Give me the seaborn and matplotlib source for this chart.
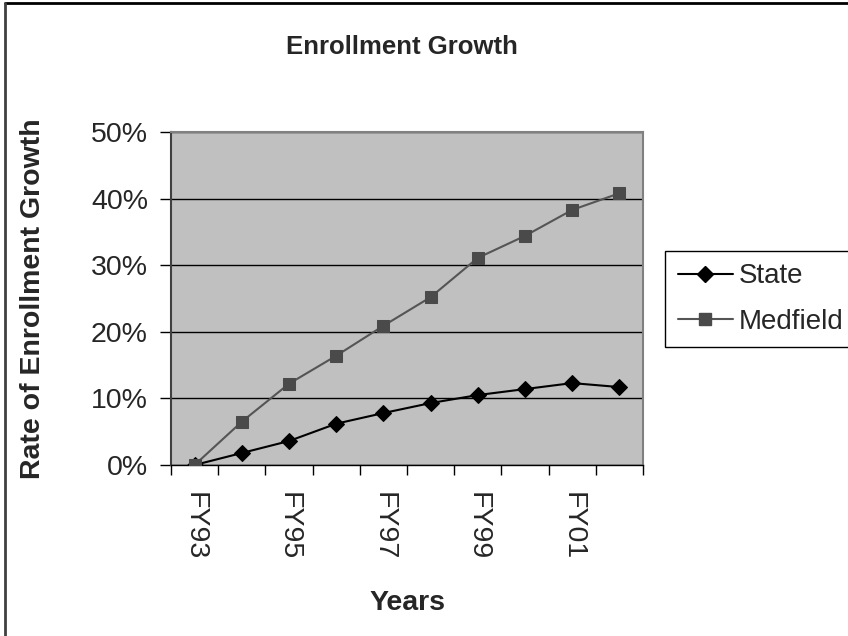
import numpy as np
import pandas as pd
import matplotlib
matplotlib.use("Agg")
import matplotlib.pyplot as plt
from matplotlib.lines import Line2D
from matplotlib.ticker import PercentFormatter
import seaborn as sns

# Fiscal years and cumulative enrollment growth (fraction of FY93 enrollment)
years = ["FY93", "FY94", "FY95", "FY96", "FY97", "FY98", "FY99", "FY00", "FY01", "FY02"]
state = [0.000, 0.018, 0.036, 0.062, 0.078, 0.093, 0.105, 0.114, 0.123, 0.117]
medfield = [0.000, 0.065, 0.122, 0.164, 0.209, 0.252, 0.311, 0.344, 0.383, 0.408]
series_names = ["State", "Medfield"]
labeled_years = ["FY93", "FY95", "FY97", "FY99", "FY01"]
y_ticks = [0.0, 0.1, 0.2, 0.3, 0.4, 0.5]

df = pd.DataFrame({
    "pos": list(range(len(years))) * 2,
    "Year": years * 2,
    "Growth": state + medfield,
    "Series": [series_names[0]] * len(years) + [series_names[1]] * len(years),
})

sns.set_theme(style="white")
plt.rcParams["font.family"] = ["Liberation Sans", "DejaVu Sans"]

PX = 72 / 100  # points per pixel at 100 dpi

fig = plt.figure(figsize=(8.48, 6.36), dpi=100)
ax = fig.add_axes([171 / 848, 1 - 465 / 636, (643 - 171) / 848, (465 - 132) / 636])
ax.set_facecolor("#C0C0C0")

palette = {"State": "#000000", "Medfield": "#555555"}
markers = {"State": "D", "Medfield": "s"}
sns.lineplot(data=df, x="pos", y="Growth", hue="Series", style="Series",
             palette=palette, markers=markers, dashes=False, sort=False,
             markersize=8.5, linewidth=1.5, ax=ax, legend=False, zorder=3)
# marker fills/edges
for line in ax.get_lines():
    if line.get_color() == "#555555":
        line.set_markerfacecolor("#4a4a4a")
        line.set_markeredgecolor("#4a4a4a")
    else:
        line.set_markerfacecolor("#000000")
        line.set_markeredgecolor("#000000")

ax.set_xlim(-0.5, len(years) - 0.5)
ax.set_ylim(0, 0.5)

# Category boundaries carry tick marks; every other category gets a label
ax.set_xticks(np.arange(-0.5, len(years), 1.0))
ax.set_xticklabels([])
ax.set_xticks([years.index(y) for y in labeled_years], minor=True)
ax.set_xticklabels(labeled_years, minor=True, rotation=-90, fontsize=20.5)
ax.tick_params(axis="x", which="major", direction="out", length=10 * PX, width=1,
               color="black", bottom=True)
ax.tick_params(axis="x", which="minor", length=0, pad=27 * PX, bottom=True)

ax.set_yticks(y_ticks)
ax.yaxis.set_major_formatter(PercentFormatter(1.0, decimals=0))
ax.tick_params(axis="y", direction="out", length=11 * PX, width=1, color="black",
               pad=12 * PX, labelsize=20.5, left=True)

ax.grid(axis="y", color="black", linewidth=1)
ax.grid(axis="x", visible=False)
ax.set_axisbelow(True)

for side in ["top", "right"]:
    ax.spines[side].set_color("#808080")
    ax.spines[side].set_linewidth(1.5)
ax.spines["left"].set_color("#404040")
ax.spines["left"].set_linewidth(1.5)
ax.spines["bottom"].set_color("black")
ax.spines["bottom"].set_linewidth(1)

ax.set_xlabel("Years", fontsize=20.5, fontweight="bold", labelpad=0)
ax.xaxis.set_label_coords(0.5, -(590 - 465) / (465 - 132), transform=ax.transAxes)
ax.set_ylabel("Rate of Enrollment Growth", fontsize=20.5, fontweight="bold")
ax.yaxis.set_label_coords(-(171 - 46) / (643 - 171), 0.5, transform=ax.transAxes)

fig.text(402 / 848, 1 - 47 / 636, "Enrollment Growth", fontsize=18.5, fontweight="bold",
         ha="center", va="center")

handles = [
    Line2D([], [], color="#000000", marker="D", markersize=8.5, linewidth=1.5,
           markerfacecolor="#000000", markeredgecolor="#000000"),
    Line2D([], [], color="#555555", marker="s", markersize=8.5, linewidth=1.5,
           markerfacecolor="#4a4a4a", markeredgecolor="#4a4a4a"),
]
leg = fig.legend(handles, series_names, loc="center left",
                 bbox_to_anchor=(665 / 848, 1 - 299 / 636), fontsize=20,
                 frameon=True, fancybox=False, edgecolor="black", framealpha=1,
                 handlelength=2.0, handletextpad=0.2, borderpad=0.45,
                 labelspacing=0.7, borderaxespad=0)
leg.get_frame().set_linewidth(1)

# outer chart frame
fig.add_artist(Line2D([5 / 848, 1], [1 - 3 / 636, 1 - 3 / 636], color="black", linewidth=2,
                      transform=fig.transFigure))
fig.add_artist(Line2D([5 / 848, 5 / 848], [0, 1 - 3 / 636], color="#404040", linewidth=2,
                      transform=fig.transFigure))

fig.savefig("out.png", dpi=100)
